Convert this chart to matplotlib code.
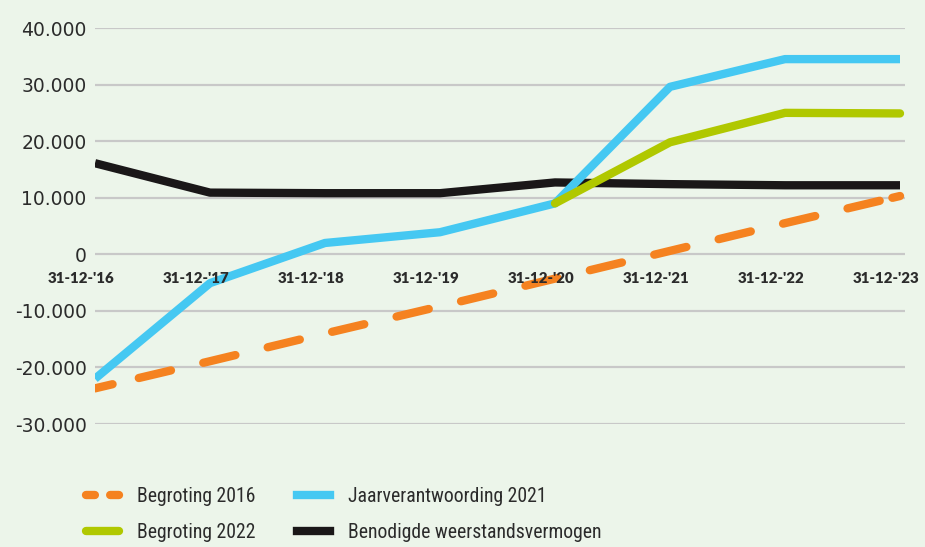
import matplotlib
matplotlib.use("Agg")
import matplotlib.pyplot as plt
from matplotlib.lines import Line2D
from matplotlib.ticker import FuncFormatter, FixedLocator
import matplotlib.transforms as mtransforms
import matplotlib.font_manager as fm

# ---- data ----
categories = ["31-12-'16", "31-12-'17", "31-12-'18", "31-12-'19",
              "31-12-'20", "31-12-'21", "31-12-'22", "31-12-'23"]
begroting_2016 = [-23700, -18900, -14000, -9200, -4300, 600, 5500, 10300]
jaarverantwoording_2021 = [-22000, -5100, 2000, 3900, 9000, 29600, 34500, 34500]
begroting_2022_x = [4, 5, 6, 7]
begroting_2022 = [9000, 19800, 25000, 24900]
benodigd = [16100, 10900, 10800, 10800, 12700, 12400, 12200, 12200]
yticks = [-30000, -20000, -10000, 0, 10000, 20000, 30000, 40000]
legend_labels = ["Begroting 2016", "Begroting 2022", "Jaarverantwoording 2021",
                 "Benodigde weerstandsvermogen"]

BG = '#ecf5ea'
ORANGE = '#f58220'
BLUE = '#45c8f2'
GREEN = '#b0c800'
BLACK = '#1a1718'
TXT = '#2b2b2b'

plt.rcParams['lines.scale_dashes'] = False

# pick a condensed font for the legend if one is installed
def condensed_font():
    prefs = ['Liberation Sans Narrow', 'Roboto Condensed', 'Open Sans Condensed',
             'Noto Sans', 'DejaVu Sans', 'Lato', 'Roboto', 'Open Sans']
    cands = []
    for f in fm.fontManager.ttflist:
        is_cond = ('Narrow' in f.name or 'Condensed' in f.name
                   or f.stretch in ('condensed', 'semi-condensed', 'extra-condensed'))
        if not is_cond or f.style != 'normal':
            continue
        if f.weight not in (400, 'normal', 'regular', 'book'):
            continue
        rank = next((i for i, p in enumerate(prefs) if f.name.startswith(p)), 99)
        cands.append((rank, f.stretch != 'semi-condensed', f.fname))
    if cands:
        cands.sort()
        return cands[0][2]
    return None

cf = condensed_font()

fig = plt.figure(figsize=(9.25, 5.47), dpi=100, facecolor=BG)
ax = fig.add_axes([95/925, 1-424/547, 810/925, 396/547])
ax.set_facecolor(BG)

x = list(range(len(categories)))
lw = 6

# dash pattern (points): short first dash, regular dashes, short closing dash
dash_seq = [13.0, 19.4] + [23.8, 23.9] * 11 + [23.8, 9.4, 10.0, 30.0]

ax.plot(x, benodigd, color=BLACK, lw=lw, solid_capstyle='butt', zorder=3)
ax.plot(x, jaarverantwoording_2021, color=BLUE, lw=lw, solid_capstyle='butt', zorder=4)
ax.plot(begroting_2022_x, begroting_2022, color=GREEN, lw=lw, solid_capstyle='round', zorder=5)
ax.plot(x, begroting_2016, color=ORANGE, lw=lw, dash_capstyle='round',
        linestyle=(0, dash_seq), zorder=6)

ax.set_xlim(0, 7 + 5/115)
ax.set_ylim(-30000, 40000)
ax.yaxis.set_major_locator(FixedLocator(yticks))
ax.yaxis.set_major_formatter(FuncFormatter(lambda v, p: f"{int(v):,}".replace(",", ".")))
ax.grid(axis='y', color='#c8c8c8', lw=1.6, zorder=1)
ax.set_xticks([])
ax.tick_params(axis='y', length=0, pad=6, labelsize=13.5, labelcolor=TXT)
for lab in ax.get_yticklabels():
    lab.set_family(['DejaVu Sans'])
for s in ax.spines.values():
    s.set_visible(False)

offset = mtransforms.offset_copy(ax.transData, fig=fig, x=-14, y=-18, units='dots')
for i, c in enumerate(categories):
    ax.text(i, 0, c, transform=offset, ha='center', va='top', fontsize=10.8,
            fontweight='heavy', color=TXT, family=['Lato', 'DejaVu Sans'], zorder=7)

handles = [
    Line2D([], [], color=ORANGE, lw=lw, dash_capstyle='round', linestyle=(0, (6.4, 11))),
    Line2D([], [], color=GREEN, lw=lw, solid_capstyle='round'),
    Line2D([], [], color=BLUE, lw=lw, solid_capstyle='projecting'),
    Line2D([], [], color=BLACK, lw=lw, solid_capstyle='projecting'),
]
if cf:
    prop = fm.FontProperties(fname=cf, size=14.2)
else:
    prop = fm.FontProperties(family=['Liberation Sans', 'DejaVu Sans'], size=13)
leg = fig.legend(handles, legend_labels, ncol=2, loc='upper left',
                 bbox_to_anchor=(86/925, 1-487/547), frameon=False,
                 handlelength=1.67, handletextpad=0.91, columnspacing=2.13,
                 labelspacing=0.84, borderpad=0, borderaxespad=0, prop=prop)
for t in leg.get_texts():
    t.set_color(TXT)

fig.savefig('out.png', dpi=100, facecolor=BG)
